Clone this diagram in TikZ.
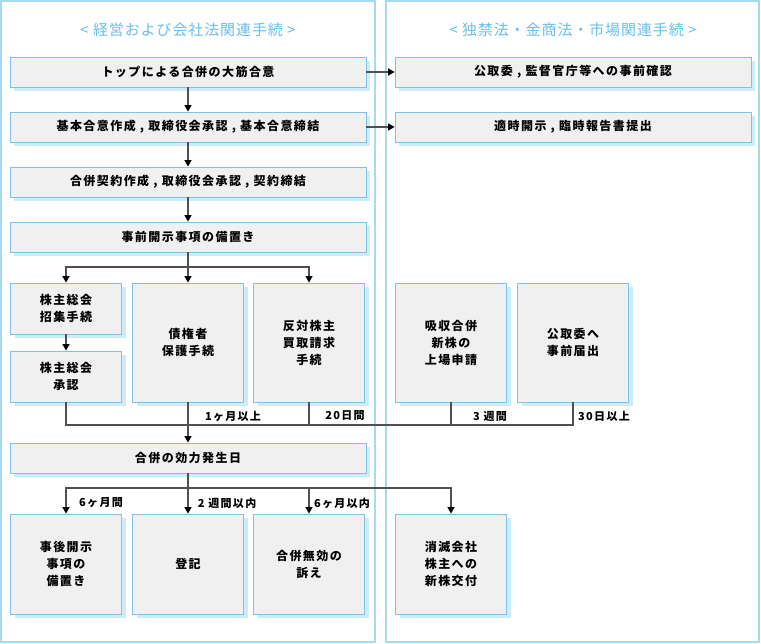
\documentclass[tikz,border=0pt]{standalone}
\usepackage{fontspec}
\setmainfont{Noto Sans CJK JP}
\newfontfamily\boxfont[LetterSpace=12]{Noto Sans CJK JP}
\newfontfamily\titlefont[LetterSpace=6]{Noto Sans CJK JP}
\usepackage{tikz}
\usetikzlibrary{arrows.meta,shadows}
\definecolor{lineblue}{RGB}{125, 195, 230}
\definecolor{panelblue}{RGB}{165, 218, 242}
\definecolor{shadeblue}{RGB}{205, 236, 250}
\definecolor{boxgray}{RGB}{240, 240, 240}
\definecolor{titleblue}{RGB}{105, 190, 232}
\definecolor{darkline}{RGB}{80, 80, 80}

\begin{document}
\begin{tikzpicture}[x = 1pt, y = -1pt,
		box/.style = {draw = lineblue, fill = boxgray, line width = 0.8pt, inner sep = 0pt, align = center,
			font = \boxfont\bfseries\fontsize{12}{17}\selectfont,
			drop shadow = {shadow xshift = 4pt, shadow yshift = -4pt, fill = shadeblue, opacity = 1}},
		wide/.style = {box, minimum width = 356pt, minimum height = 30pt},
		tall/.style = {box, minimum width = 111pt, minimum height = 119pt},
		half/.style = {box, minimum width = 111pt, minimum height = 51pt},
		low/.style = {box, minimum width = 111pt, minimum height = 100pt},
		title/.style = {text = titleblue, font = \titlefont\fontsize{15}{18}\selectfont},
		lab/.style = {font = \boxfont\bfseries\fontsize{11}{13}\selectfont},
		panel/.style = {draw = panelblue, line width = 1.6pt},
		conn/.style = {draw = darkline, line width = 1.2pt},
		arrow/.style = {conn, -{Triangle[width = 7pt, length = 6.5pt, color = black]}}]
		\useasboundingbox (0,0) rectangle (761,644);
		\draw[panel] (1,1) rectangle (375,642);
		\draw[panel] (386,1) rectangle (759,642);
		\node (ttl1) at (188,30) [title] {< 経営および会社法関連手続 >};
		\node (ttl2) at (573,30) [title] {< 独禁法・金商法・市場関連手続 >};
		\node (top1) at (188,72) [wide] {トップによる合併の大筋合意};
		\node (top2) at (188,127) [wide] {基本合意作成 , 取締役会承認 , 基本合意締結};
		\node (top3) at (188,182) [wide] {合併契約作成 , 取締役会承認 , 契約締結};
		\node (top4) at (188,237) [wide] {事前開示事項の備置き};
		\node (rt1) at (573,72) [wide] {公取委 , 監督官庁等への事前確認};
		\node (rt2) at (573,127) [wide] {適時開示 , 臨時報告書提出};
		\node (m1) at (66,308.5) [half] {株主総会\\招集手続};
		\node (m2) at (66,376.5) [half] {株主総会\\承認};
		\node (m3) at (188,342.5) [tall] {債権者\\保護手続};
		\node (m4) at (309,342.5) [tall] {反対株主\\買取請求\\手続};
		\node (r3) at (451,342.5) [tall] {吸収合併\\新株の\\上場申請};
		\node (r4) at (573,342.5) [tall] {公取委へ\\事前届出};
		\node (eff) at (188,458) [wide] {合併の効力発生日};
		\node (b1) at (66,564) [low] {事後開示\\事項の\\備置き};
		\node (b2) at (188,564) [low] {登記};
		\node (b3) at (309,564) [low] {合併無効の\\訴え};
		\node (b4) at (451,564) [low] {消滅会社\\株主への\\新株交付};
		\coordinate (j1) at (188,267);
		\coordinate (jm) at (188,425);
		\coordinate (j2) at (188,488);
		\draw[arrow] (top1) -- (top2);
		\draw[arrow] (top2) -- (top3);
		\draw[arrow] (top3) -- (top4);
		\draw[arrow] (top1) -- (rt1);
		\draw[arrow] (top2) -- (rt2);
		\draw[conn] (top4) -- (j1);
		\draw[arrow] (j1) -| (m1);
		\draw[arrow] (j1) -- (m3);
		\draw[arrow] (j1) -| (m4);
		\draw[arrow] (m1) -- (m2);
		\draw[conn] (m2) |- (jm) -- (jm -| r4) -- (r4);
		\draw[conn] (m4) -- (m4 |- jm);
		\draw[conn] (r3) -- (r3 |- jm);
		\draw[arrow] (m3) -- (eff);
		\draw[conn] (eff) -- (j2);
		\draw[arrow] (j2) -| (b1);
		\draw[arrow] (j2) -- (b2);
		\draw[arrow] (j2) -| (b3);
		\draw[arrow] (j2) -| (b4);
		\node (lab1) at (233,416) [lab] {1ヶ月以上};
		\node (lab2) at (345,416) [lab] {20日間};
		\node (lab3) at (490,416) [lab] {3 週間};
		\node (lab4) at (604,416) [lab] {30日以上};
		\node (lab5) at (101,503) [lab] {6ヶ月間};
		\node (lab6) at (227,503) [lab] {2 週間以内};
		\node (lab7) at (342,503) [lab] {6ヶ月以内};
\end{tikzpicture}
\end{document}
